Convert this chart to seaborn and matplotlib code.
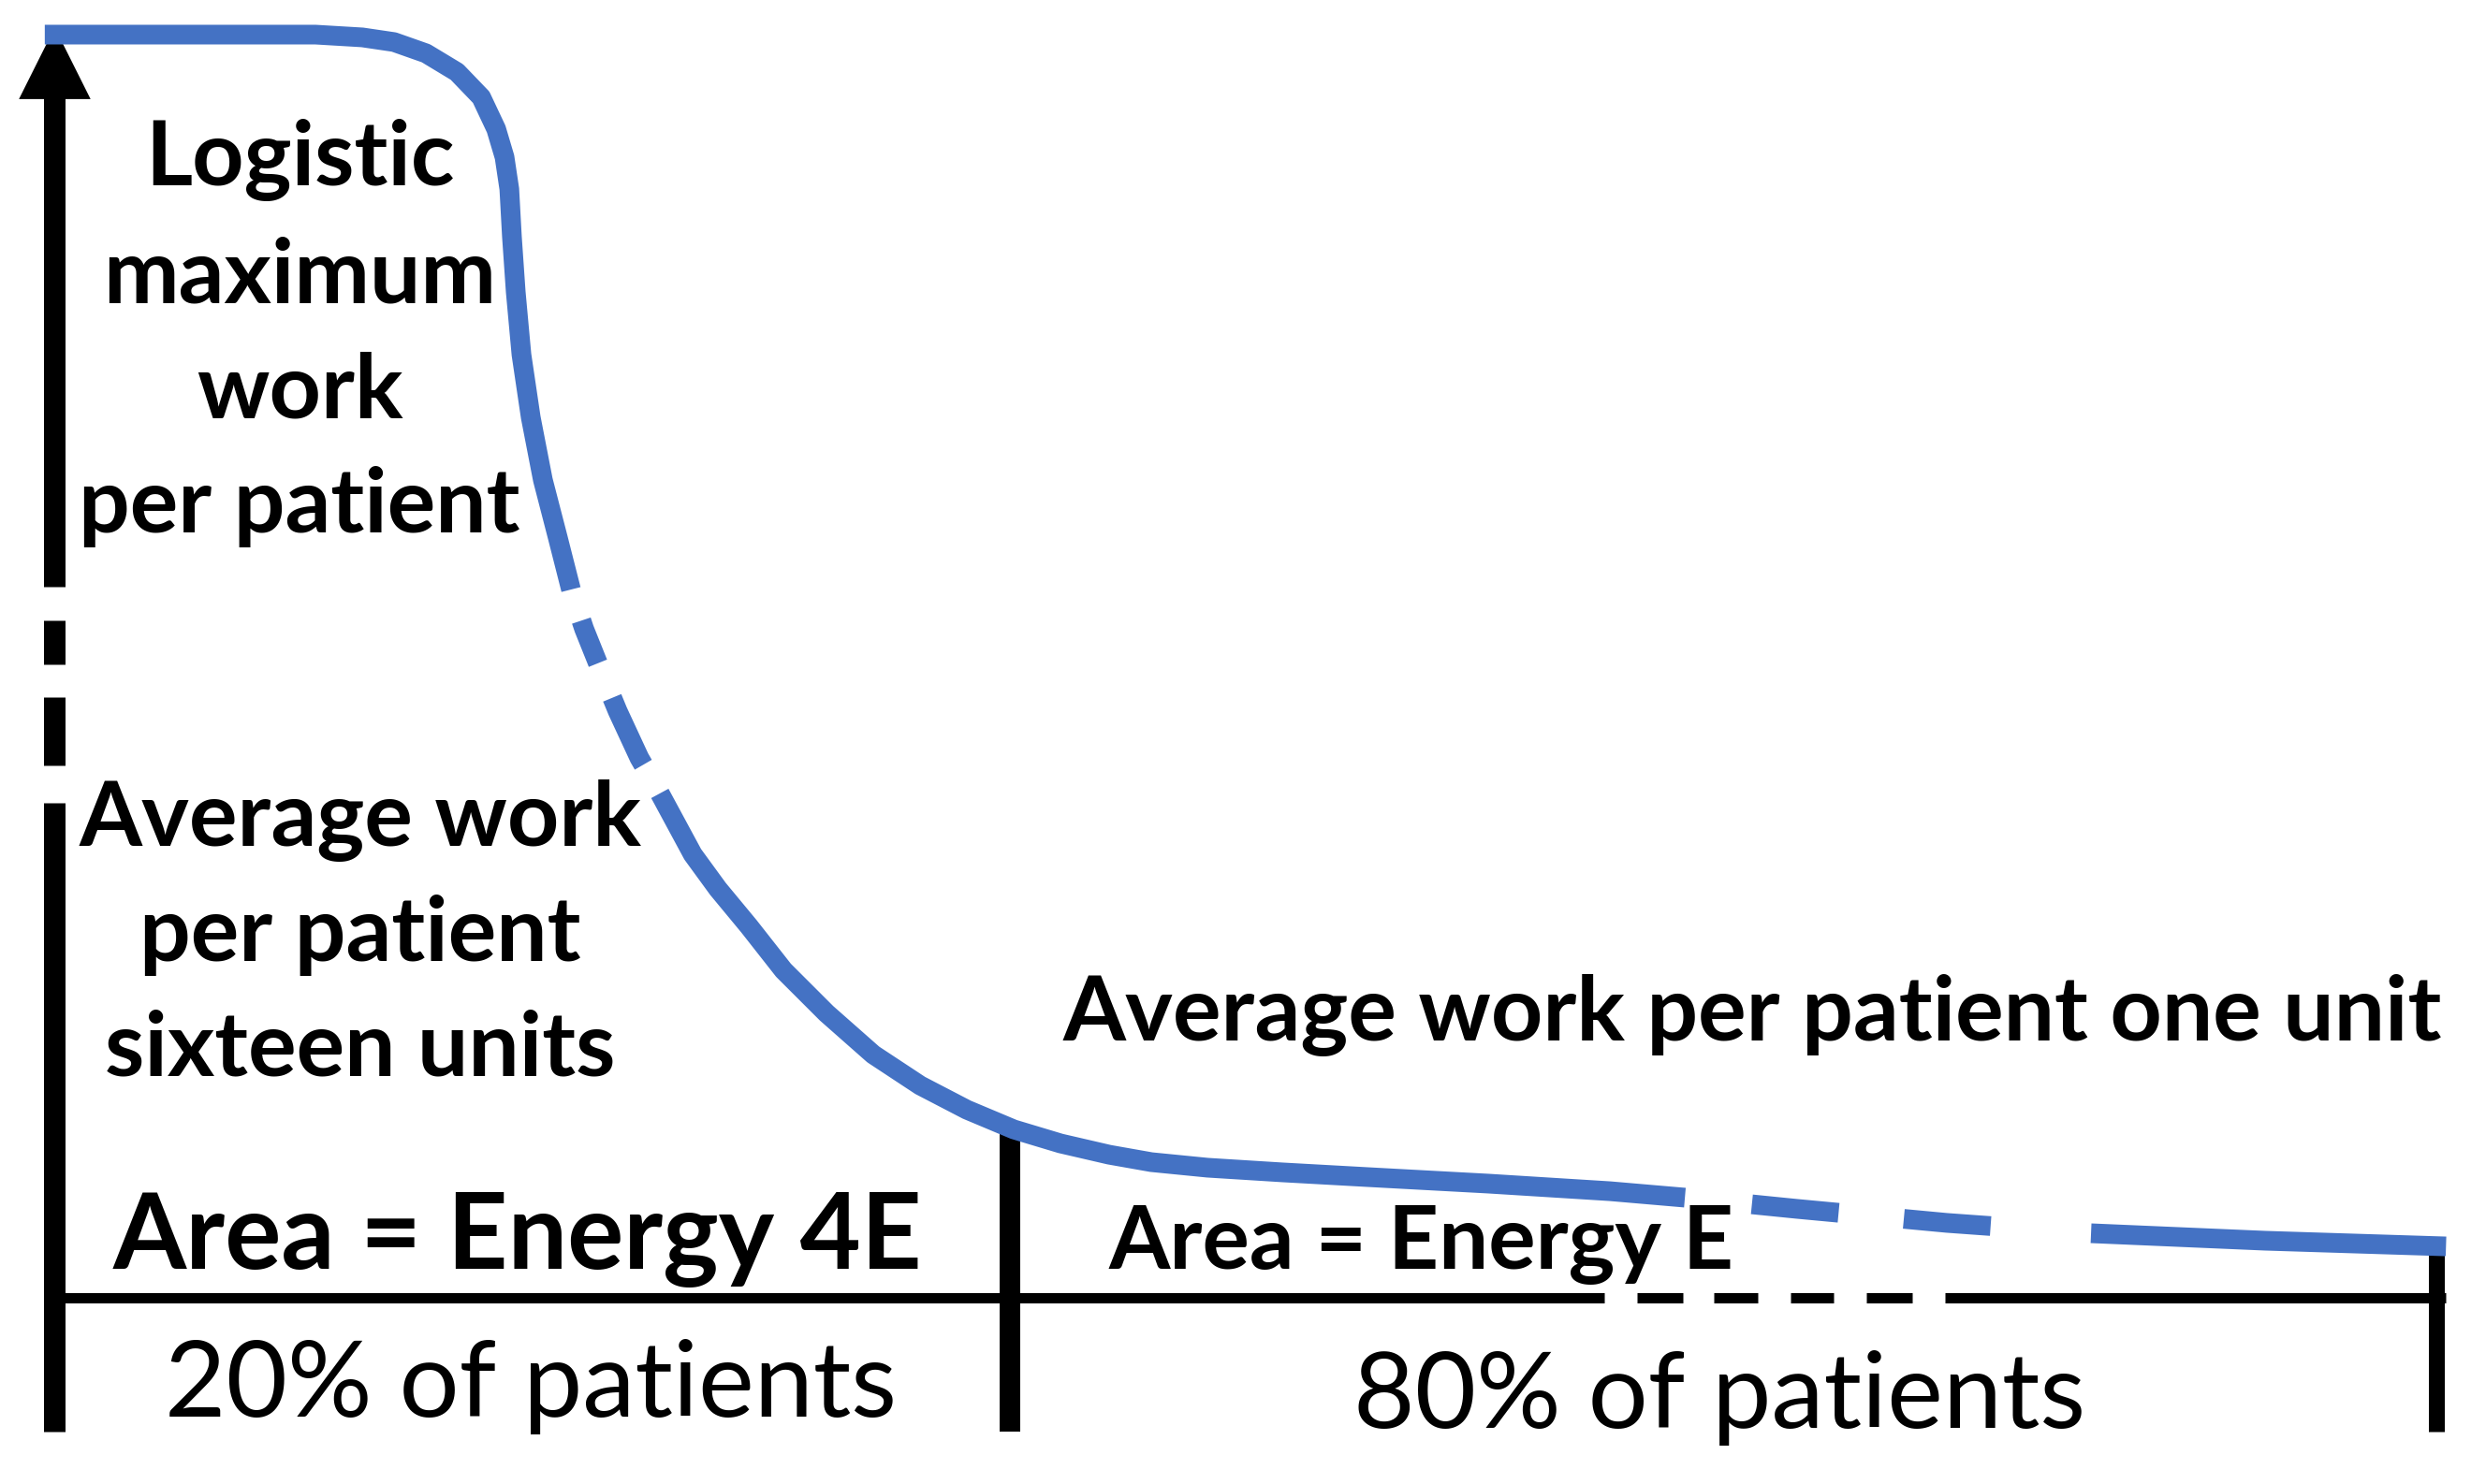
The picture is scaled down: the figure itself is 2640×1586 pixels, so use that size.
import numpy as np
import matplotlib
matplotlib.use("Agg")
import matplotlib.pyplot as plt
import seaborn as sns

# Work curve.
# x: share of the chart width (0 = vertical axis, 100 = right end)
# y: work per patient (100 = logistic maximum, 0 = baseline)
curve_x = [-0.4, 10.96, 12.93, 14.26, 15.6, 16.9, 17.92, 18.55, 18.9, 19.1, 19.21, 19.37,
           19.61, 20.0, 20.51, 21.14, 21.69, 22.24, 22.87, 23.65, 24.56, 25.42, 26.8,
           27.86, 29.16, 30.61, 32.42, 34.38, 36.35, 38.31, 40.28, 42.24, 44.28, 46.05,
           48.41, 51.55, 55.09, 60.2, 65.3, 68.45, 73.16, 79.45, 85.5, 92.81, 100.4]
curve_y = [100.0, 100.0, 99.78, 99.41, 98.52, 97.04, 95.04, 92.52, 90.3, 87.78, 84.0, 79.63,
           74.67, 69.7, 64.74, 60.15, 56.07, 52.96, 50.0, 46.44, 42.74, 39.93, 35.11,
           32.37, 29.41, 25.93, 22.52, 19.26, 16.81, 14.89, 13.33, 12.22, 11.33, 10.74,
           10.3, 9.93, 9.56, 9.04, 8.44, 7.93, 7.04, 5.93, 5.11, 4.52, 4.07]

# index ranges of the curve that are drawn broken
upper_break = (16, 21)
lower_break = (39, 42)

divider_x = [40.1, 100.0]   # 20% / 80% split and right end
floor_y = -10.6

block_max = ["Logistic", "maximum", "work", "per patient"]
block_avg = ["Average work", "per patient", "sixteen units"]
label_one = "Average work per patient one unit"
area_4e = "Area = Energy 4E"
area_e = "Area = Energy E"
share_labels = ["20% of patients", "80% of patients"]

sns.set_theme(style="white")
plt.rcParams["font.family"] = ["Lato", "DejaVu Sans"]
plt.rcParams["lines.scale_dashes"] = False

BLUE = "#4472C4"
PT = 72 / 200  # pixels -> points at dpi 200


def dash(*px):
    return tuple(v * PT for v in px)


fig = plt.figure(figsize=(13.2, 7.93), dpi=200)
ax = fig.add_axes([0, 0, 1, 1])
ax.set_xlim(-2.28, 101.45)
ax.set_ylim(-14.74, 102.74)
ax.axis("off")

# vertical axis with its break, and arrow head
ax.plot([0, 0], [floor_y, 96], color="black", lw=23 * PT, solid_capstyle="butt",
        linestyle=(0, dash(672, 40, 73, 35, 47, 36, 1500, 1)), zorder=2)
ax.plot([0], [97.7], marker="^", markersize=72 * PT, color="black", lw=0, zorder=2)

# baseline, dashed under "Energy E"
ax.plot([curve_x[0], 100.4], [0, 0], color="black", lw=11 * PT, solid_capstyle="butt",
        linestyle=(0, dash(1666, 35, 49, 33, 47, 35, 46, 35, 49, 35, 1500, 1)), zorder=2)

# dividers up to the curve
tops = np.interp(divider_x, curve_x, curve_y)
for x, top, w in zip(divider_x, tops, [22, 17]):
    ax.plot([x, x], [floor_y, top + 0.2], color="black", lw=w * PT,
            solid_capstyle="butt", zorder=2)

# the curve, solid and broken pieces
n = len(curve_x) - 1
pieces = [
    (0, upper_break[0], "-"),
    (upper_break[0], upper_break[1], (73.0, (17.6, 14.4, 28.4, 25.2))),
    (upper_break[1], lower_break[0], "-"),
    (lower_break[0], lower_break[1], (130.4, (33.5, 25.2, 33.5, 64.1))),
    (lower_break[1], n, "-"),
]
for a, b, ls in pieces:
    sns.lineplot(x=curve_x[a:b + 1], y=curve_y[a:b + 1], sort=False, estimator=None,
                 color=BLUE, lw=21 * PT, ax=ax, zorder=3)
    line = ax.lines[-1]
    line.set_linestyle(ls)
    line.set_solid_capstyle("butt")
    line.set_dash_capstyle("butt")
    line.set_solid_joinstyle("round")

# texts
bold = dict(fontweight="bold", color="black", ha="center", va="baseline", zorder=4)
t_max = [ax.text(10.3, y, s, **bold) for s, y in zip(block_max, [88.1, 78.8, 69.7, 60.6])]
t_avg = [ax.text(12.85, y, s, **bold) for s, y in zip(block_avg, [35.8, 26.7, 17.6])]
t_one = ax.text(71.3, 20.4, label_one, **bold)
t_4e = ax.text(19.45, 2.3, area_4e, **bold)
t_e = ax.text(57.4, 2.3, area_e, **bold)
reg = dict(color="black", ha="center", va="baseline", zorder=4)
t_share = [ax.text(x, y, s, **reg) for s, x, y in zip(share_labels, [20.0, 69.9], [-9.4, -10.3])]

renderer = fig.canvas.get_renderer()


def fit(texts, ref, width_px):
    w = ref.get_window_extent(renderer).width
    size = ref.get_fontsize() * width_px / w
    for t in texts:
        t.set_fontsize(size)


fit(t_max + t_avg + [t_one], t_one, 1473)
fit([t_4e], t_4e, 864)
fit([t_e], t_e, 668)
fit(t_share, t_share[0], 783)

fig.savefig("out.png", dpi=200, facecolor="white")
